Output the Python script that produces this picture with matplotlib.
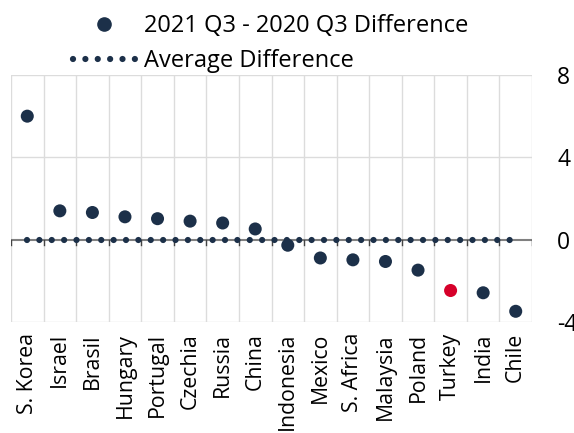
import matplotlib.pyplot as plt
from matplotlib.lines import Line2D
import numpy as np

plt.rcParams['font.family'] = ['Open Sans', 'DejaVu Sans']
plt.rcParams['lines.scale_dashes'] = False

countries = ['S. Korea', 'Israel', 'Brasil', 'Hungary', 'Portugal', 'Czechia',
             'Russia', 'China', 'Indonesia', 'Mexico', 'S. Africa', 'Malaysia',
             'Poland', 'Turkey', 'India', 'Chile']
diff = [6.0, 1.40, 1.32, 1.11, 1.02, 0.90, 0.81, 0.52, -0.27, -0.89, -0.98,
        -1.06, -1.48, -2.47, -2.58, -3.48]
highlight = 'Turkey'
yticks = [-4, 0, 4, 8]

navy = '#1c3049'
red = '#d6002a'

x = np.arange(len(countries))
avg = np.mean(diff)
colors = [red if c == highlight else navy for c in countries]

fig = plt.figure(figsize=(5.74, 4.33), dpi=100)
ax = fig.add_axes([11 / 574, 1 - 322 / 433, 521 / 574, 247 / 433])

ax.set_xlim(-0.5, len(countries) - 0.5)
ax.set_ylim(-4, 8)

# grid: vertical lines at category boundaries, horizontal at y ticks
for b in np.arange(len(countries) + 1) - 0.5:
    ax.axvline(b, color='#dcdcdc', lw=1, zorder=0)
for t in yticks:
    if t != 0:
        ax.axhline(t, color='#dcdcdc', lw=1, zorder=0)
ax.axhline(0, color='#808080', lw=1.5, zorder=1)
for b in np.arange(len(countries) + 1) - 0.5:
    ax.plot([b, b], [0, -0.25], color='#444444', lw=1, zorder=1)

ax.plot([x[0], x[-1]], [avg, avg], color=navy, lw=4.5,
        linestyle=(0, (0.01, 8.9)), dash_capstyle='round', zorder=2)
ax.scatter(x, diff, s=88, c=colors, zorder=3, linewidths=0)

for s in ax.spines.values():
    s.set_visible(False)

ax.set_xticks(x)
ax.set_xticklabels(countries, rotation=90, fontsize=15.3, va='top')
ax.tick_params(axis='x', length=0, pad=8)
ax.yaxis.tick_right()
ax.set_yticks(yticks)
ax.set_yticklabels([str(t) for t in yticks], fontsize=16.5)
ax.tick_params(axis='y', length=0, pad=18)

handles = [
    Line2D([], [], color=navy, marker='o', markersize=9.5, linestyle='none'),
    Line2D([], [], color=navy, lw=4.5, linestyle=(0, (0.01, 8.9)),
           dash_capstyle='round'),
]
fig.legend(handles, ['2021 Q3 - 2020 Q3 Difference', 'Average Difference'],
           loc='upper left', bbox_to_anchor=(59 / 574, 1.0), frameon=False,
           fontsize=17, handlelength=2.6, handletextpad=0.42, labelspacing=0.45,
           borderpad=0.1)

fig.savefig('out.png', dpi=100)
